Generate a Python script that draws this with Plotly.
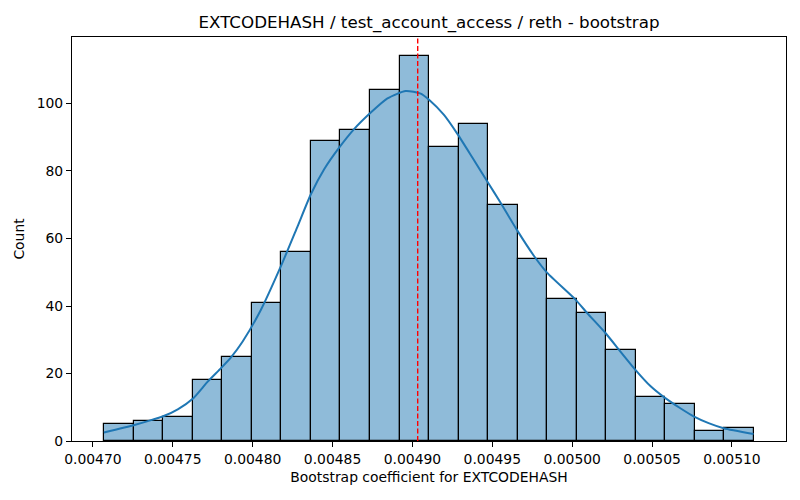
import numpy as np
import plotly.graph_objects as go

# Histogram data (22 bins, 1000 bootstrap samples)
data_min = 0.00470725
data_max = 0.0051135
counts = [5, 6, 7, 18, 25, 41, 56, 89, 92, 104, 114, 87, 94, 70, 54, 42, 38, 27, 13, 11, 3, 4]

# KDE curve (x value, count scale)
kde_x = [0.00470688, 0.0047260, 0.00473438, 0.00474438, 0.00475313, 0.00476288, 0.00477188,
         0.00478019, 0.00478644, 0.00479375, 0.00480519, 0.00481769, 0.00482813, 0.00483644,
         0.00484475, 0.00485413, 0.0048635, 0.00487394, 0.00488438, 0.00489581, 0.00490519,
         0.0049104, 0.00491975, 0.00492813, 0.0049375, 0.00494725, 0.00495519, 0.00496519,
         0.0049760, 0.00498438, 0.00500206, 0.00500938, 0.00502081, 0.00503019, 0.00503956,
         0.00504894, 0.00505831, 0.00506769, 0.005076, 0.00508538, 0.00509475, 0.0051135]
kde_y = [2.5, 4.75, 5.9, 7.4, 9.4, 12.7, 17.6, 21.6, 24.8, 29.5, 38.9, 51.8, 63.6, 73.1,
         80.5, 86.9, 92.4, 97.3, 101.5, 103.7, 102.9, 101.1, 96.6, 91.0, 84.0, 76.6, 70.6, 62.7,
         54.9, 49.8, 41.9, 37.9, 32.0, 26.5, 21.1, 16.3, 12.7, 9.7, 7.3, 5.3, 3.8, 2.1]

ref_value = 0.0049033
x_ticks = [0.00470, 0.00475, 0.00480, 0.00485, 0.00490, 0.00495, 0.00500, 0.00505, 0.00510]
y_ticks = [0, 20, 40, 60, 80, 100]

edges = np.linspace(data_min, data_max, len(counts) + 1)
centers = (edges[:-1] + edges[1:]) / 2
width = edges[1] - edges[0]

fig = go.Figure()
fig.add_trace(go.Bar(
    x=centers, y=counts, width=width,
    marker=dict(color="rgba(31,119,180,0.5)", line=dict(color="black", width=1.2)),
    hoverinfo="skip",
))
fig.add_trace(go.Scatter(
    x=kde_x, y=kde_y, mode="lines",
    line=dict(color="#1f77b4", width=2, shape="spline", smoothing=0.6),
    hoverinfo="skip",
))
fig.add_shape(type="line", x0=ref_value, x1=ref_value, xref="x", yref="paper", y0=0, y1=1,
              layer="above", line=dict(color="#ff0000", width=1.4, dash="5px,2.5px"))

span = data_max - data_min
font = "DejaVu Sans, Arial, sans-serif"
W, H = 792, 492  # page body has 8px margin
fig.update_layout(
    width=W, height=H,
    margin=dict(l=64, r=14, t=29, b=59),
    paper_bgcolor="white", plot_bgcolor="white",
    showlegend=False, bargap=0,
    font=dict(family=font, size=13.9, color="black"),
    title=dict(text="EXTCODEHASH / test_account_access / reth - bootstrap",
               x=0.5, xref="paper", y=1 - 14 / H, yref="container",
               xanchor="center", yanchor="middle",
               font=dict(family=font, size=16.7, color="black")),
    xaxis=dict(range=[data_min - 0.05 * span, data_max + 0.05 * span],
               tickvals=x_ticks, tickformat=".5f",
               showline=True, linecolor="black", linewidth=1.1, mirror=True,
               ticks="outside", ticklen=5, tickwidth=1.1, tickcolor="black",
               showgrid=False, zeroline=False,
               title=dict(text="Bootstrap coefficient for EXTCODEHASH", standoff=6,
                          font=dict(family=font, size=13.9))),
    yaxis=dict(range=[0, 114 * 1.05], tickvals=y_ticks,
               showline=True, linecolor="black", linewidth=1.1, mirror=True,
               ticks="outside", ticklen=5, tickwidth=1.1, tickcolor="black",
               showgrid=False, zeroline=False,
               title=dict(text="Count", standoff=8, font=dict(family=font, size=13.9))),
)

fig.write_html("out.html")
